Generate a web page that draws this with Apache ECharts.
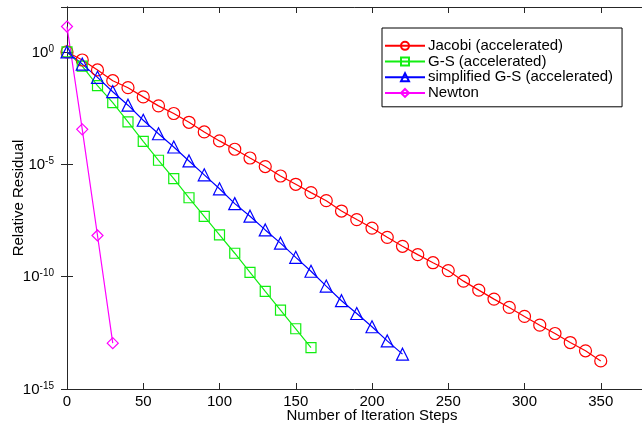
<!DOCTYPE html>
<html><head><meta charset="utf-8">
<script src="https://cdn.jsdelivr.net/npm/echarts@6/dist/echarts.min.js"></script>
<style>html,body{margin:0;padding:0;background:#fff}#c{width:642px;height:427px}</style>
</head><body><div id="c"></div>
<script>
const seriesNames = ['Jacobi (accelerated)', 'G-S (accelerated)', 'simplified G-S (accelerated)', 'Newton'];
const jacobiX = [0,10,20,30,40,50,60,70,80,90,100,110,120,130,140,150,160,170,180,190,200,210,220,230,240,250,260,270,280,290,300,310,320,330,340,350];
const jacobiY = [1,0.437,0.158,0.0525,0.0257,0.01,3.98e-3,1.82e-3,7.41e-4,2.75e-4,1.10e-4,4.68e-5,1.91e-5,7.94e-6,3.02e-6,1.29e-6,5.50e-7,2.40e-7,8.32e-8,3.47e-8,1.45e-8,5.62e-9,2.24e-9,9.55e-10,4.17e-10,1.86e-10,6.31e-11,2.51e-11,1.0e-11,4.27e-12,1.70e-12,6.92e-13,2.95e-13,1.17e-13,5.01e-14,1.78e-14];
const gsX = [0,10,20,30,40,50,60,70,80,90,100,110,120,130,140,150,160];
const gsY = [1,0.234,0.0316,5.50e-3,7.76e-4,1.05e-4,1.51e-5,2.29e-6,3.24e-7,4.79e-8,7.24e-9,1.10e-9,1.55e-10,2.19e-11,3.24e-12,4.79e-13,6.92e-14];
const sgsX = [0,10,20,30,40,50,60,70,80,90,100,110,120,130,140,150,160,170,180,190,200,210,220];
const sgsY = [1,0.288,0.0741,0.0170,4.27e-3,9.12e-4,2.29e-4,5.89e-5,1.41e-5,3.39e-6,8.13e-7,1.78e-7,4.90e-8,1.20e-8,3.09e-9,7.24e-10,1.74e-10,3.80e-11,8.51e-12,2.29e-12,5.89e-13,1.38e-13,3.55e-14];
const newtonX = [0,10,20,30];
const newtonY = [13.5,3.6e-4,6.8e-9,1.1e-13];
const xTicks = [0,50,100,150,200,250,300,350];
const yTickExps = [-15,-10,-5,0];

const FONT = 'Liberation Sans, Arial, sans-serif';
const pairs = (xs, ys) => xs.map((x, i) => [x, ys[i]]);
const chart = echarts.init(document.getElementById('c'), null, {renderer: 'canvas'});

function mk(name, xs, ys, color, symbol, size) {
  return {
    name, type: 'line', data: pairs(xs, ys),
    symbol, symbolSize: size, showAllSymbol: true,
    lineStyle: {color, width: 1.2},
    itemStyle: {color: 'rgba(255,255,255,0)', borderColor: color, borderWidth: 1.2},
    emphasis: {disabled: true}, animation: false, z: 3
  };
}

const axisLine = {show: true, lineStyle: {color: '#262626', width: 1}};
const tick = {show: true, inside: true, length: 6, lineStyle: {color: '#262626'}};

chart.setOption({
  animation: false,
  backgroundColor: '#fff',
  grid: {left: 67, top: 7, width: 610, height: 382, containLabel: false, outerBoundsMode: 'none'},
  legend: {
    orient: 'vertical', left: 382, top: 28,
    data: seriesNames,
    itemWidth: 40, itemHeight: 10, itemGap: 0,
    borderColor: '#000', borderWidth: 1, borderRadius: 0,
    padding: [10, 9, 6, 2], backgroundColor: '#fff',
    textStyle: {fontFamily: FONT, fontSize: 15, lineHeight: 15.7, color: '#000', padding: [0,0,0,-2]}
  },
  xAxis: [{
    type: 'value', min: 0, max: 400, interval: 50,
    axisLine, axisTick: tick, splitLine: {show: false},
    axisLabel: {fontFamily: FONT, fontSize: 15, color: '#000', margin: 5,
      formatter: v => xTicks.indexOf(v) >= 0 ? String(v) : ''},
    name: 'Number of Iteration Steps', nameLocation: 'middle', nameGap: 19, nameMoveOverlap: false,
    nameTextStyle: {fontFamily: FONT, fontSize: 15, color: '#000'}
  }, {
    type: 'value', min: 0, max: 400, interval: 50, position: 'top',
    axisLine, axisTick: tick, splitLine: {show: false}, axisLabel: {show: false}
  }],
  yAxis: [{
    type: 'log', logBase: 10, min: 1e-15, max: 100, interval: 5,
    axisLine, axisTick: tick, splitLine: {show: false}, minorTick: {show: false},
    axisLabel: {
      margin: 13, fontFamily: FONT, color: '#000',
      formatter: v => {
        const e = Math.round(Math.log10(v));
        return yTickExps.indexOf(e) >= 0 ? '{b|10}{s|' + e + '}' : '';
      },
      rich: {
        b: {fontFamily: FONT, fontSize: 15, color: '#000', verticalAlign: 'bottom', lineHeight: 16},
        s: {fontFamily: FONT, fontSize: 10, color: '#000', verticalAlign: 'top', lineHeight: 16, padding: [0,0,10,0]}
      }
    },
    name: 'Relative Residual', nameLocation: 'middle', nameGap: 41, nameMoveOverlap: false,
    nameTextStyle: {fontFamily: FONT, fontSize: 15, color: '#000'}
  }, {
    type: 'log', logBase: 10, min: 1e-15, max: 100, interval: 5, position: 'right',
    axisLine, axisTick: tick, splitLine: {show: false}, axisLabel: {show: false}
  }],
  series: [
    mk(seriesNames[0], jacobiX, jacobiY, '#ff0000', 'circle', 12),
    mk(seriesNames[1], gsX, gsY, '#11ee11', 'rect', 10),
    mk(seriesNames[2], sgsX, sgsY, '#0000ff', 'triangle', 12),
    mk(seriesNames[3], newtonX, newtonY, '#ff00ff', 'diamond', 11)
  ]
});
</script></body></html>
